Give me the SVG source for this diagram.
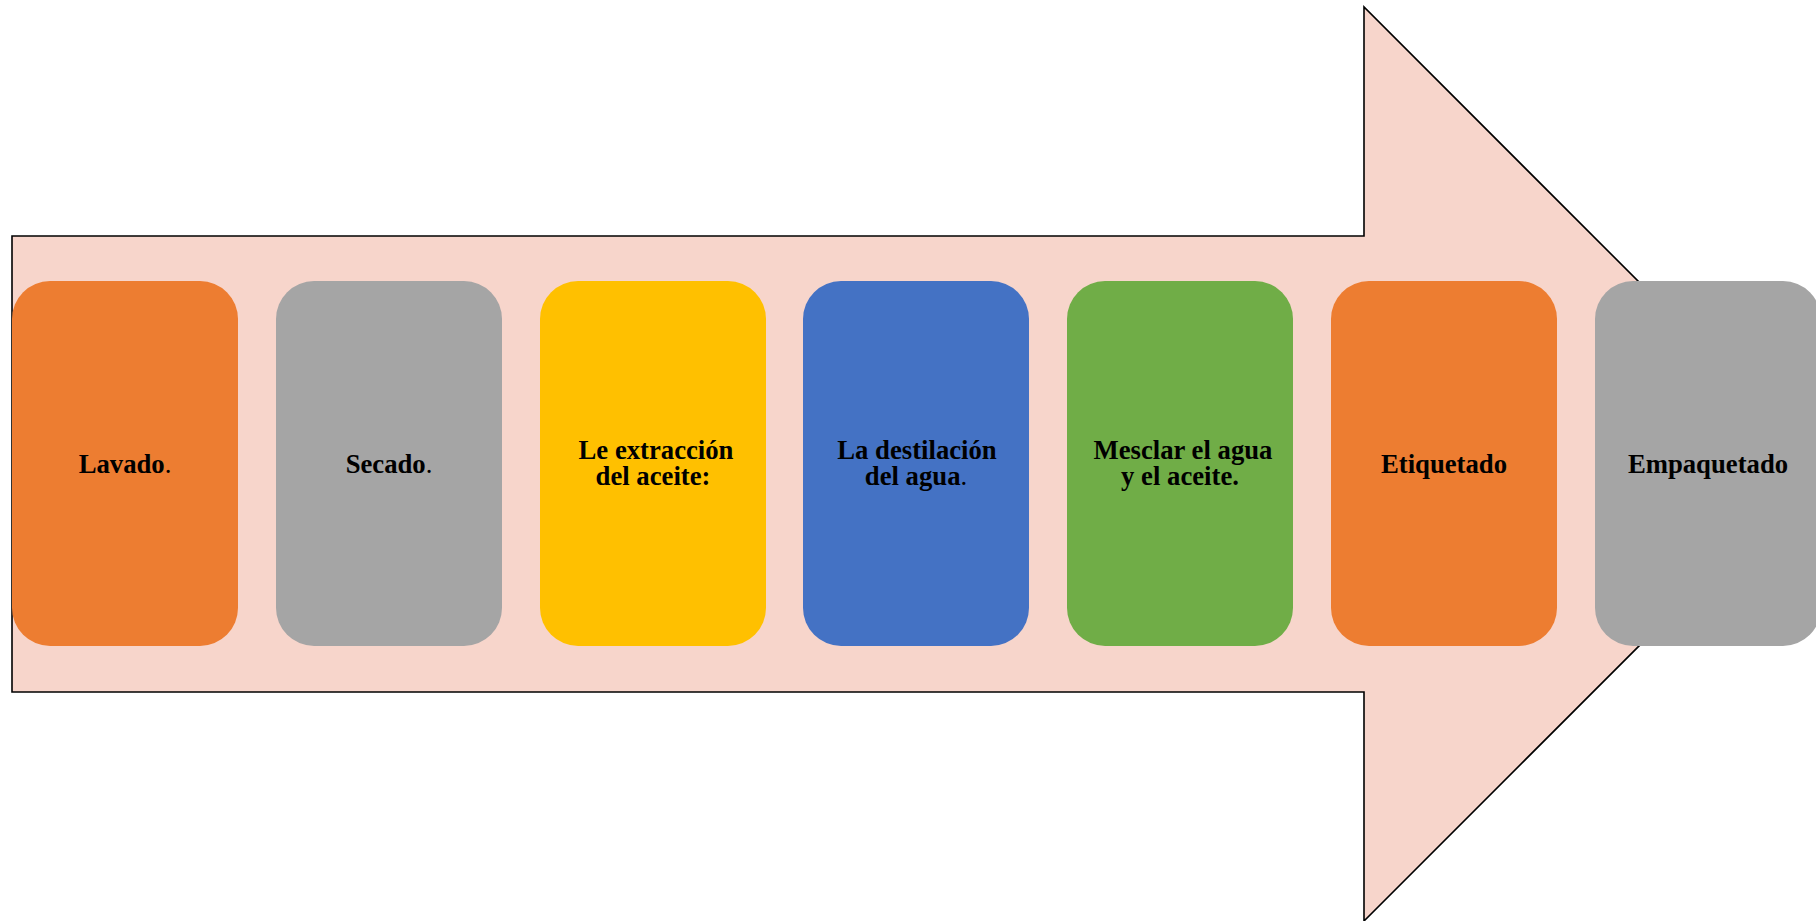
<svg xmlns="http://www.w3.org/2000/svg" width="1816" height="921" viewBox="0 0 1816 921">
<style>
.box{stroke:none}
.t{font-family:"Liberation Serif","Times New Roman",serif;font-weight:bold;font-size:26.7px;fill:#000;text-anchor:middle}
.r{font-weight:normal}
</style>
<rect x="0" y="0" width="1816" height="921" fill="#fff"/>
<g id="arrow">
<polygon points="12,236 1364,236 1364,7 1821,464 1364,921 1364,692 12,692" fill="#F7D5CB" stroke="#000" stroke-width="1.6"/>
</g>
<g id="connectors"></g>
<g id="n1"><rect class="box" x="12" y="281" width="226" height="365" rx="38" fill="#ED7D31"/><text class="t" x="125" y="473">Lavado<tspan class="r">.</tspan></text></g>
<g id="n2"><rect class="box" x="276" y="281" width="226" height="365" rx="38" fill="#A5A5A5"/><text class="t" x="389" y="473">Secado<tspan class="r">.</tspan></text></g>
<g id="n3"><rect class="box" x="540" y="281" width="226" height="365" rx="38" fill="#FFC000"/><text class="t" x="656" y="459">Le extracción</text><text class="t" x="653" y="485">del aceite:</text></g>
<g id="n4"><rect class="box" x="803" y="281" width="226" height="365" rx="38" fill="#4472C4"/><text class="t" x="917" y="459">La destilación</text><text class="t" x="916" y="485">del agua<tspan class="r">.</tspan></text></g>
<g id="n5"><rect class="box" x="1067" y="281" width="226" height="365" rx="38" fill="#70AD47"/><text class="t" x="1183" y="459">Mesclar el agua</text><text class="t" x="1180" y="485">y el aceite.</text></g>
<g id="n6"><rect class="box" x="1331" y="281" width="226" height="365" rx="38" fill="#ED7D31"/><text class="t" x="1444" y="473">Etiquetado</text></g>
<g id="n7"><rect class="box" x="1595" y="281" width="226" height="365" rx="38" fill="#A5A5A5"/><text class="t" x="1708" y="473">Empaquetado</text></g>
</svg>
